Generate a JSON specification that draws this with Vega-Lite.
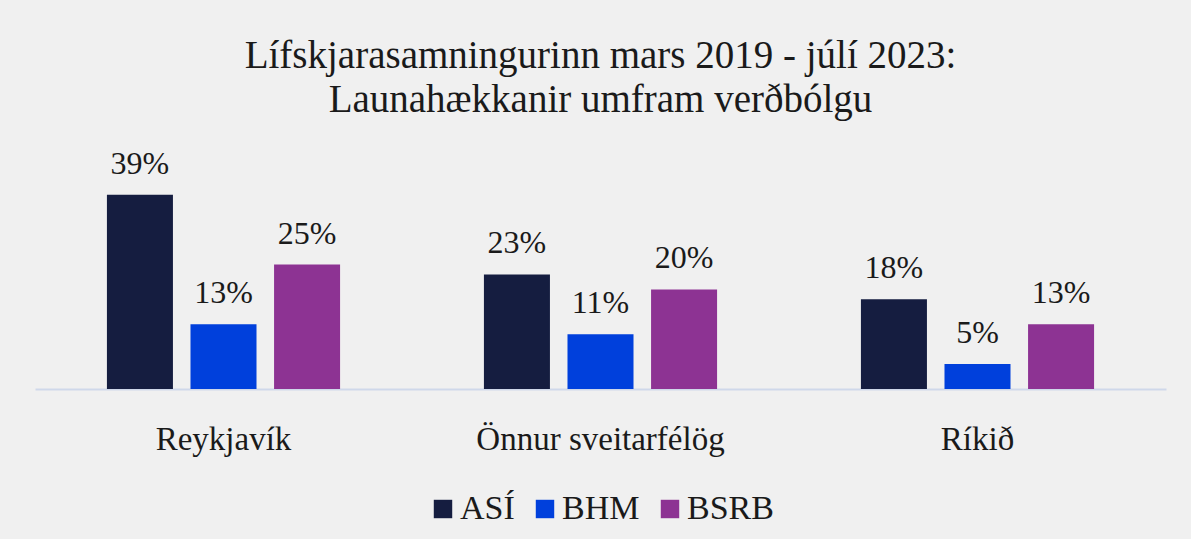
{
  "$schema": "https://vega.github.io/schema/vega-lite/v6.json",
  "width": 1131,
  "height": 249,
  "autosize": {"type": "none"},
  "padding": {"left": 35, "top": 140, "right": 25, "bottom": 150},
  "background": "#f0f0f0",
  "config": {"view": {"stroke": null}},
  "title": {
    "text": ["Lífskjarasamningurinn mars 2019 - júlí 2023:", "Launahækkanir umfram verðbólgu"],
    "font": "Liberation Serif",
    "fontSize": 39,
    "fontWeight": "normal",
    "color": "#1a1a1a",
    "lineHeight": 44,
    "baseline": "bottom",
    "offset": 20,
    "dy": 39,
    "anchor": "middle"
  },
  "data": {
    "values": [
      {"hopur": "Reykjavík", "felag": "ASÍ", "gildi": 0.39},
      {"hopur": "Reykjavík", "felag": "BHM", "gildi": 0.13},
      {"hopur": "Reykjavík", "felag": "BSRB", "gildi": 0.25},
      {"hopur": "Önnur sveitarfélög", "felag": "ASÍ", "gildi": 0.23},
      {"hopur": "Önnur sveitarfélög", "felag": "BHM", "gildi": 0.11},
      {"hopur": "Önnur sveitarfélög", "felag": "BSRB", "gildi": 0.20},
      {"hopur": "Ríkið", "felag": "ASÍ", "gildi": 0.18},
      {"hopur": "Ríkið", "felag": "BHM", "gildi": 0.05},
      {"hopur": "Ríkið", "felag": "BSRB", "gildi": 0.13}
    ]
  },
  "encoding": {
    "x": {
      "field": "hopur",
      "type": "nominal",
      "sort": ["Reykjavík", "Önnur sveitarfélög", "Ríkið"],
      "scale": {"paddingInner": 0.335, "paddingOuter": 0.1675},
      "axis": {
        "title": null,
        "labelAngle": 0,
        "labelFont": "Liberation Serif",
        "labelFontSize": 33,
        "labelColor": "#1a1a1a",
        "labelPadding": 34,
        "labelLimit": 0,
        "ticks": false,
        "domainColor": "#cfd8ea",
        "domainWidth": 2,
        "grid": false
      }
    },
    "xOffset": {
      "field": "felag",
      "type": "nominal",
      "sort": ["ASÍ", "BHM", "BSRB"],
      "scale": {"paddingInner": 0.21, "paddingOuter": 0.105}
    },
    "y": {
      "field": "gildi",
      "type": "quantitative",
      "scale": {"domain": [0, 0.5]},
      "axis": null
    }
  },
  "layer": [
    {
      "mark": {"type": "bar"},
      "encoding": {
        "color": {
          "field": "felag",
          "type": "nominal",
          "sort": ["ASÍ", "BHM", "BSRB"],
          "scale": {"domain": ["ASÍ", "BHM", "BSRB"], "range": ["#151d40", "#0040dc", "#8d3393"]},
          "legend": {
            "title": null,
            "orient": "none",
            "legendX": 391,
            "legendY": 352,
            "direction": "horizontal",
            "symbolType": "square",
            "symbolSize": 340,
            "symbolStrokeWidth": 0,
            "labelFont": "Liberation Serif",
            "labelFontSize": 34,
            "labelColor": "#1a1a1a",
            "labelOffset": 0,
            "columnPadding": 13,
            "labelLimit": 300
          }
        }
      }
    },
    {
      "mark": {
        "type": "text",
        "baseline": "alphabetic",
        "dy": -21,
        "font": "Liberation Serif",
        "fontSize": 32,
        "color": "#1a1a1a"
      },
      "encoding": {
        "text": {"field": "gildi", "type": "quantitative", "format": ".0%"}
      }
    }
  ]
}
